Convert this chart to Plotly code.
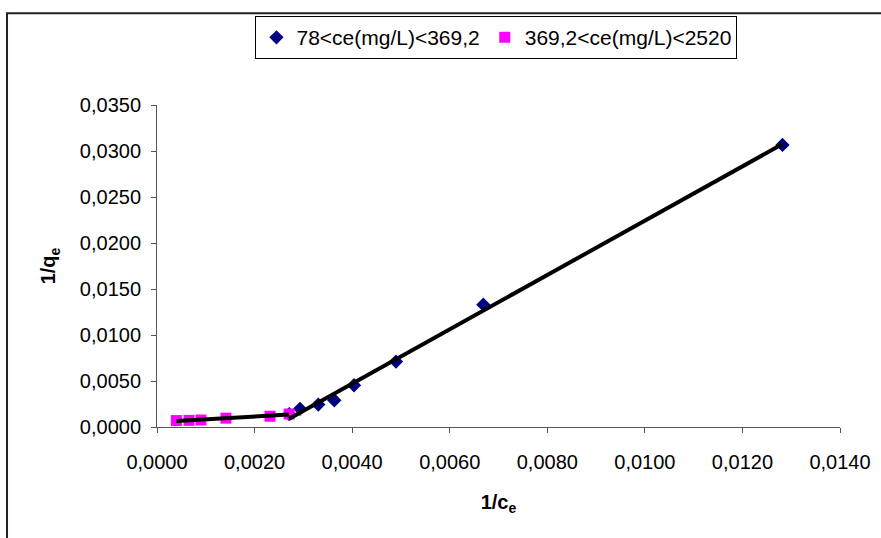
import numpy as np
import plotly.graph_objects as go

# Series 1: 78 < ce < 369.2  (1/ce, 1/qe)
inv_ce_low = [0.002709, 0.002931, 0.003306, 0.003634, 0.004038, 0.004899, 0.006689, 0.012821]
inv_qe_low = [0.00141, 0.00198, 0.00244, 0.00291, 0.00454, 0.00711, 0.01330, 0.03066]
# Series 2: 369.2 < ce < 2520
inv_ce_high = [0.000397, 0.000656, 0.000900, 0.001414, 0.002316, 0.002709]
inv_qe_high = [0.00070, 0.00072, 0.00076, 0.00096, 0.00117, 0.00141]

name_low = "78<ce(mg/L)<369,2"
name_high = "369,2<ce(mg/L)<2520"

x_ticks = [0.0, 0.002, 0.004, 0.006, 0.008, 0.010, 0.012, 0.014]
y_ticks = [0.0, 0.005, 0.010, 0.015, 0.020, 0.025, 0.030, 0.035]

FONT = "Liberation Sans, Arial, sans-serif"


def trend(xs, ys):
    xs = np.asarray(xs)
    ys = np.asarray(ys)
    m, b = np.polyfit(xs, ys, 1)
    xx = np.array([xs.min(), xs.max()])
    return xx, m * xx + b


fig = go.Figure()
fig.add_trace(go.Scatter(
    x=inv_ce_low, y=inv_qe_low, mode="markers", name=name_low,
    marker=dict(symbol="diamond", size=11, color="#000080"),
))
fig.add_trace(go.Scatter(
    x=inv_ce_high, y=inv_qe_high, mode="markers", name=name_high,
    marker=dict(symbol="square", size=11, color="#FF00FF"),
))
for xs, ys in [(inv_ce_high, inv_qe_high), (inv_ce_low, inv_qe_low)]:
    tx, ty = trend(xs, ys)
    fig.add_trace(go.Scatter(x=tx, y=ty, mode="lines", showlegend=False,
                             line=dict(color="black", width=4)))

fig.update_layout(
    width=881, height=538,
    margin=dict(l=157, r=41, t=105, b=110.5, autoexpand=False),
    paper_bgcolor="white", plot_bgcolor="white",
    separators=",.",
    font=dict(family=FONT, size=20, color="black"),
    showlegend=True,
    legend=dict(orientation="h", x=0.497, xanchor="center", y=1.276, yanchor="top",
                bordercolor="black", borderwidth=1, bgcolor="white",
                font=dict(size=21), itemwidth=30, tracegroupgap=0),
    xaxis=dict(range=[0, 0.014], tickvals=x_ticks, tickformat=".4f",
               showgrid=False, zeroline=False, showline=True, linecolor="#555",
               linewidth=1, ticks="outside", ticklen=5, tickcolor="#555",
               ticklabelstandoff=12,
               title=dict(text="<b>1/c<sub>e</sub></b>", font=dict(size=20), standoff=22)),
    yaxis=dict(range=[0, 0.035], tickvals=y_ticks, tickformat=".4f",
               showgrid=False, zeroline=False, showline=True, linecolor="#555",
               linewidth=1, ticks="outside", ticklen=5, tickcolor="#555",
               ticklabelstandoff=6,
               title=dict(text="<b>1/q<sub>e</sub></b>", font=dict(size=20), standoff=18)),
    shapes=[dict(type="rect", xref="paper", yref="paper",
                 x0=-0.2196, x1=1.3, y0=-0.6, y1=1.2853,
                 line=dict(color="#222", width=2), fillcolor="rgba(0,0,0,0)", layer="below")],
)

fig.write_html("out.html", config={"displayModeBar": False},
               post_script="document.body.style.margin='0';")
